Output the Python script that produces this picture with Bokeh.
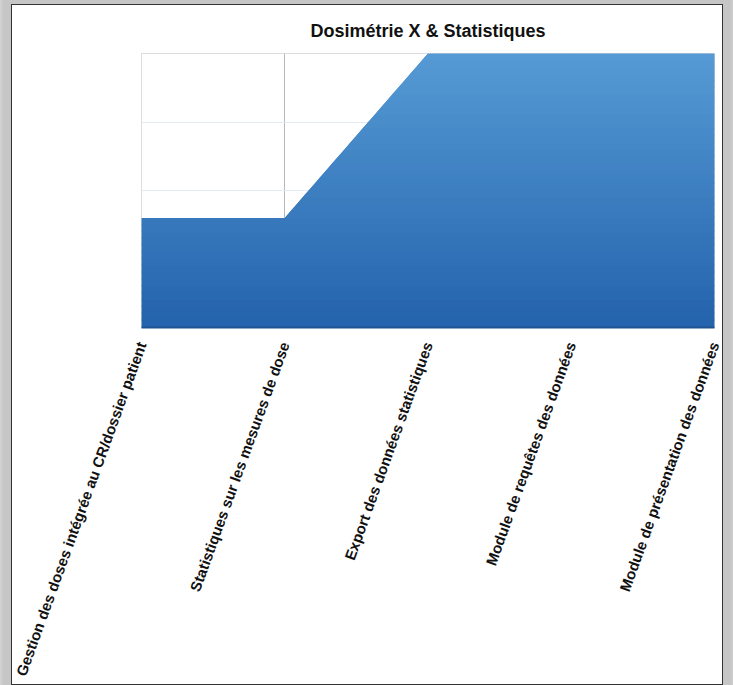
import numpy as np
from bokeh.plotting import figure
from bokeh.models import FixedTicker, Range1d
from bokeh.embed import file_html
from bokeh.resources import INLINE

# ---- data ----
title_text = "Dosimétrie X & Statistiques"
categories = [
    "Gestion des doses intégrée au CR/dossier patient",
    "Statistiques sur les mesures de dose",
    "Export des données statistiques",
    "Module de requêtes des données",
    "Module de présentation des données",
]
values = [1.6, 1.6, 4.0, 4.0, 4.0]
y_max = 4.0
grid_levels = [1, 2, 3, 4]

xs = np.arange(len(categories), dtype=float)
ys = np.array(values, dtype=float)

p = figure(
    frame_width=573, frame_height=274,
    x_range=Range1d(0, len(categories) - 1),
    y_range=Range1d(0, y_max),
    output_backend="svg", toolbar_location=None,
    min_border_left=129, min_border_right=8, min_border_top=48,
    min_border_bottom=356,
    title=title_text,
)
p.styles = {"margin-left": "12px", "margin-top": "5px",
            "outline": "1px solid #333333",
            "box-shadow": "0 0 6px 14px #c6c6c6"}

p.title.align = "center"
p.title.text_font = "Liberation Sans"
p.title.text_font_size = "18px"
p.title.text_font_style = "bold"
p.title.text_color = "#111111"
p.title.standoff = 26

# ---- gradient-filled area ----
N = 40
levels = np.linspace(0, y_max, N + 1)
pts = list(xs)
for i in range(len(xs) - 1):
    y0, y1 = ys[i], ys[i + 1]
    if y0 != y1:
        for L in levels:
            t = (L - y0) / (y1 - y0)
            if 0 < t < 1:
                pts.append(xs[i] + t * (xs[i + 1] - xs[i]))
xd = np.unique(pts)
yd = np.interp(xd, xs, ys)

c_bot = np.array([36, 99, 173])
c_top = np.array([86, 155, 213])
p.varea(x=xd, y1=0, y2=yd, fill_color="#3b7fc3")
for k in range(N):
    lo, hi = levels[k], levels[k + 1]
    f = (k + 0.5) / N
    c = (c_bot + (c_top - c_bot) * f).astype(int)
    col = "#%02x%02x%02x" % tuple(c)
    p.varea(x=xd, y1=np.minimum(yd, lo), y2=np.minimum(yd, hi + 0.02),
            fill_color=col)

# ---- axes & grid ----
p.xaxis.ticker = FixedTicker(ticks=list(xs))
p.xaxis.major_label_overrides = {int(i): c for i, c in enumerate(categories)}
p.xaxis.major_label_orientation = np.deg2rad(70)
p.xaxis.major_label_text_font = "Liberation Sans"
p.xaxis.major_label_text_font_style = "bold"
p.xaxis.major_label_text_font_size = "15px"
p.xaxis.major_label_text_color = "#111111"
p.xaxis.major_label_standoff = 9
p.xaxis.major_tick_line_color = None
p.xaxis.minor_tick_line_color = None
p.xaxis.axis_line_color = "#1e5391"
p.xaxis.axis_line_width = 2

p.yaxis.visible = False
p.ygrid.ticker = FixedTicker(ticks=grid_levels)
p.ygrid.grid_line_color = "#e2eaf2"
p.xgrid.ticker = FixedTicker(ticks=list(xs))
p.xgrid.grid_line_color = "#b8b8b8"
p.outline_line_color = "#dddddd"
p.background_fill_color = "white"
p.border_fill_color = "white"

open("out.html", "w").write(file_html(p, INLINE))
